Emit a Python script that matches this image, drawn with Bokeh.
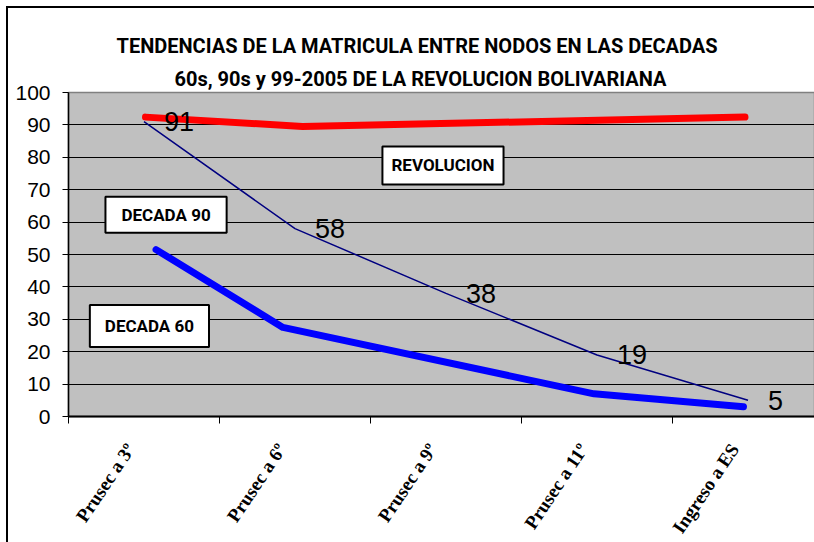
from bokeh.plotting import figure
from bokeh.models import FixedTicker, Label, Title, Range1d
from bokeh.core.properties import value
from bokeh.embed import file_html
from bokeh.resources import INLINE

# ---- data ----
categories = ["Prusec a 3º", "Prusec a 6º", "Prusec a 9º", "Prusec a 11º", "Ingreso a ES"]
decada90 = [91, 58, 38, 19, 5]
# freeform lines (x in category units, 0 = left edge of first category)
revol_pos = [0.51, 1.55, 4.48]
revol_val = [92.4, 89.5, 92.4]
dec60_pos = [0.58, 1.42, 3.48, 4.47]
dec60_val = [51.5, 27.5, 7.0, 3.0]
y_ticks = [0, 10, 20, 30, 40, 50, 60, 70, 80, 90, 100]
title_1 = "TENDENCIAS DE LA MATRICULA ENTRE NODOS EN LAS DECADAS"
title_2 = "60s, 90s y 99-2005 DE LA REVOLUCION BOLIVARIANA"

NARROW = "Roboto"

centers = [i + 0.5 for i in range(len(categories))]
label_ticks = [c - 0.09 for c in centers]

p = figure(frame_width=746, frame_height=324, output_backend="svg", toolbar_location=None,
           x_range=Range1d(0, 746 / 151), y_range=Range1d(0, 100),
           min_border_left=60, min_border_right=0, min_border_top=84, min_border_bottom=118)
p.background_fill_color = "#C0C0C0"
p.border_fill_color = "white"
p.outline_line_color = "#808080"
p.outline_line_width = 1.5

t2 = Title(text=title_2, align="left", offset=106, text_font=NARROW, text_font_style="bold",
           text_font_size="20px", text_color="black", standoff=3)
t1 = Title(text=title_1, align="left", offset=48, text_font=NARROW, text_font_style="bold",
           text_font_size="20px", text_color="black", standoff=12)
p.add_layout(t2, "above")
p.add_layout(t1, "above")

# axes
p.xaxis.ticker = FixedTicker(ticks=label_ticks, minor_ticks=list(range(len(categories) + 1)))
p.xaxis.major_label_overrides = {c: lab for c, lab in zip(label_ticks, categories)}
p.xaxis.major_tick_out = 0
p.xaxis.major_tick_in = 0
p.xaxis.minor_tick_out = 7
p.xaxis.minor_tick_in = 0
p.xaxis.minor_tick_line_color = "black"
p.xaxis.axis_line_color = "black"
p.xaxis.axis_line_width = 2
p.xaxis.major_label_orientation = 0.98
p.xaxis.major_label_standoff = 22
p.xaxis.major_label_text_font = "Liberation Serif"
p.xaxis.major_label_text_font_style = "bold"
p.xaxis.major_label_text_font_size = "19px"
p.xaxis.major_label_text_color = "black"

p.yaxis.ticker = FixedTicker(ticks=y_ticks, minor_ticks=[])
p.yaxis.major_tick_out = 6
p.yaxis.major_tick_in = 0
p.yaxis.axis_line_color = "black"
p.yaxis.axis_line_width = 1.5
p.yaxis.major_label_standoff = 12
p.yaxis.major_label_text_font = "Liberation Sans"
p.yaxis.major_label_text_font_size = "21px"
p.yaxis.major_label_text_color = "black"

p.xgrid.grid_line_color = None
p.ygrid.ticker = FixedTicker(ticks=y_ticks[:-1])
p.ygrid.grid_line_color = "black"
p.ygrid.grid_line_width = 1

# lines
p.line(centers, decada90, line_color="#000080", line_width=1.5)
p.line(revol_pos, revol_val, line_color="#FF0000", line_width=7, line_cap="round", line_join="round")
p.line(dec60_pos, dec60_val, line_color="#0000FF", line_width=7, line_cap="round", line_join="round")

p.text(centers, decada90, text=[str(v) for v in decada90], x_offset=20,
       text_align="left", text_baseline="middle", text_font=value("Liberation Sans"),
       text_font_size="27px", text_color="black")

# callout boxes (padding given as horizontal, vertical)
for txt, x, y, pad in [("REVOLUCION", 2.48, 77.5, (9, 9)),
                       ("DECADA 90", 0.646, 62.3, (16, 8)),
                       ("DECADA 60", 0.536, 27.9, (15, 11))]:
    p.add_layout(Label(x=x, y=y, text=txt, text_align="center", text_baseline="middle",
                       text_font=NARROW, text_font_style="bold", text_font_size="17px",
                       text_color="black", background_fill_color="white",
                       border_line_color="black", border_line_width=2, padding=pad))

p.styles = {"margin-left": "6px", "margin-top": "6px",
            "border-left": "2px solid black", "border-top": "2px solid black"}

open("out.html", "w").write(file_html(p, INLINE))
